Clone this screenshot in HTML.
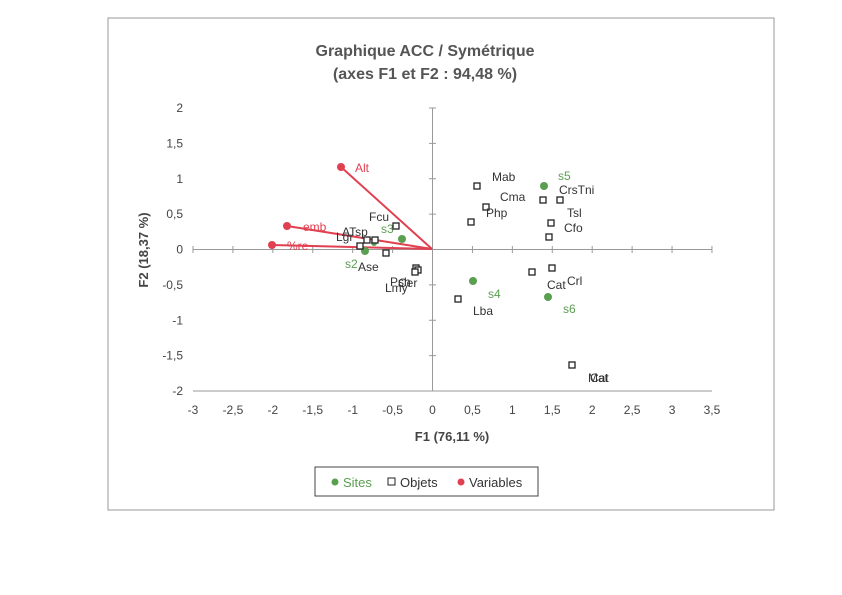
<!DOCTYPE html>
<html><head><style>
body{margin:0;background:#fff;}
svg{display:block;font-family:"Liberation Sans",sans-serif;}
</style></head><body>
<svg width="842" height="595" viewBox="0 0 842 595">
<rect x="0" y="0" width="842" height="595" fill="#fff"/>
<rect x="108" y="18" width="666" height="492" fill="none" stroke="#999" stroke-width="1"/>
<text x="425" y="56" text-anchor="middle" font-size="16" font-weight="bold" fill="#555">Graphique ACC / Symétrique</text>
<text x="425" y="79" text-anchor="middle" font-size="16" font-weight="bold" fill="#555">(axes F1 et F2 : 94,48 %)</text>
<g stroke="#999" stroke-width="1">
<line x1="193" y1="249.5" x2="712" y2="249.5"/>
<line x1="432.5" y1="108" x2="432.5" y2="391"/>
<line x1="193" y1="391" x2="712" y2="391"/>
</g>
<g font-size="12" fill="#444" text-anchor="middle" id="xt"></g>
<g font-size="12" fill="#444" text-anchor="end" id="yt"></g>
<text x="452" y="441" text-anchor="middle" font-size="13" font-weight="bold" fill="#444">F1 (76,11 %)</text>
<text x="148" y="250" text-anchor="middle" font-size="13" font-weight="bold" fill="#444" transform="rotate(-90 148 250)">F2 (18,37 %)</text>
<g stroke="#e04050" stroke-width="2">
<line x1="432" y1="249" x2="341" y2="167"/>
<line x1="432" y1="249" x2="287" y2="226"/>
<line x1="432" y1="249" x2="272" y2="245"/>
</g>
<g fill="#e04050"><circle cx="341" cy="167" r="4"/><circle cx="287" cy="226" r="4"/><circle cx="272" cy="245" r="4"/></g>
<g font-size="12" fill="#e04050"><text x="355" y="172">Alt</text><text x="303" y="231">emb</text><text x="287" y="250">%re</text></g>
<g fill="#5a9e50"><circle cx="544" cy="186" r="4"/><circle cx="473" cy="281" r="4"/><circle cx="548" cy="297" r="4"/><circle cx="402" cy="239" r="4"/><circle cx="365" cy="251" r="4"/><circle cx="374" cy="243" r="3"/></g>
<g font-size="12" fill="#5a9e50"><text x="558" y="180">s5</text><text x="488" y="298">s4</text><text x="563" y="313">s6</text><text x="381" y="233">s3</text><text x="345" y="268">s2</text></g>
<g fill="#fff" stroke="#222" stroke-width="1.3">
<rect x="474" y="183" width="6" height="6"/><rect x="483" y="204" width="6" height="6"/><rect x="468" y="219" width="6" height="6"/><rect x="540" y="197" width="6" height="6"/><rect x="557" y="197" width="6" height="6"/><rect x="548" y="220" width="6" height="6"/><rect x="546" y="234" width="6" height="6"/><rect x="529" y="269" width="6" height="6"/><rect x="549" y="265" width="6" height="6"/><rect x="455" y="296" width="6" height="6"/><rect x="393" y="223" width="6" height="6"/><rect x="364" y="237" width="6" height="6"/><rect x="372" y="237" width="6" height="6"/><rect x="357" y="243" width="6" height="6"/><rect x="383" y="250" width="6" height="6"/><rect x="413" y="265" width="6" height="6"/><rect x="415" y="267" width="6" height="6"/><rect x="412" y="269" width="6" height="6"/><rect x="569" y="362" width="6" height="6"/>
</g>
<g font-size="12" fill="#333">
<text x="492" y="181">Mab</text><text x="500" y="201">Cma</text><text x="486" y="217">Php</text><text x="559" y="194">CrsTni</text><text x="567" y="217">Tsl</text><text x="564" y="232">Cfo</text><text x="567" y="285">Crl</text><text x="547" y="289">Cat</text><text x="473" y="315">Lba</text><text x="369" y="221">Fcu</text><text x="342" y="236">ATsp</text><text x="336" y="241">Lgr</text><text x="358" y="271">Ase</text><text x="390" y="286">Psh</text><text x="385" y="292">Lmy</text><text x="398" y="287">Cer</text><text x="588" y="382">Mat</text><text x="590" y="382">Cat</text>
</g>
<rect x="315" y="467" width="223" height="29" fill="#fff" stroke="#444"/>
<circle cx="335" cy="482" r="3.5" fill="#5a9e50"/><text x="343" y="487" font-size="13" fill="#5a9e50">Sites</text>
<rect x="388" y="478" width="7" height="7" fill="#fff" stroke="#222"/><text x="400" y="487" font-size="13" fill="#333">Objets</text>
<circle cx="461" cy="482" r="3.5" fill="#e04050"/><text x="469" y="487" font-size="13" fill="#333">Variables</text>
</svg>
<script>
var ns="http://www.w3.org/2000/svg";
var xt=document.getElementById("xt"),yt=document.getElementById("yt");
for(var i=0;i<=13;i++){var v=-3+i*0.5,x=193+i*39.92;var t=document.createElementNS(ns,"text");t.setAttribute("x",x);t.setAttribute("y",414);t.textContent=String(v).replace(".",",");xt.appendChild(t);
var l=document.createElementNS(ns,"line");l.setAttribute("x1",x);l.setAttribute("x2",x);l.setAttribute("y1",246);l.setAttribute("y2",253);l.setAttribute("stroke","#999");xt.appendChild(l);}
for(var j=0;j<=8;j++){var v=2-j*0.5,y=108+j*35.375;var t=document.createElementNS(ns,"text");t.setAttribute("x",183);t.setAttribute("y",y+4);t.textContent=String(v).replace(".",",");yt.appendChild(t);
var l=document.createElementNS(ns,"line");l.setAttribute("x1",429);l.setAttribute("x2",436);l.setAttribute("y1",y);l.setAttribute("y2",y);l.setAttribute("stroke","#999");yt.appendChild(l);}
</script>
</body></html>
